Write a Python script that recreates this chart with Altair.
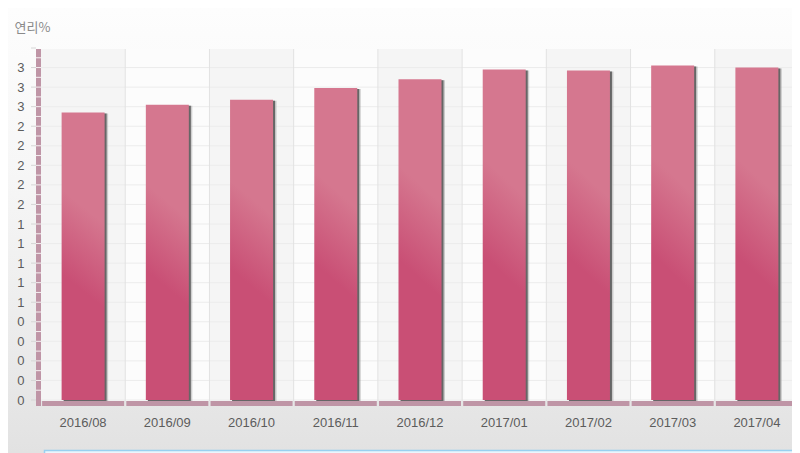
import altair as alt
import pandas as pd

months = ["2016/08", "2016/09", "2016/10", "2016/11", "2016/12", "2017/01", "2017/02", "2017/03", "2017/04"]
rates = [2.94, 3.02, 3.07, 3.19, 3.28, 3.38, 3.37, 3.42, 3.40]
shades = [0, 1, 0, 1, 0, 1, 0, 1, 0]
major_ticks = [0, 0.2, 0.4, 0.6, 0.8, 1.0, 1.2, 1.4, 1.6, 1.8, 2.0, 2.2, 2.4, 2.6, 2.8, 3.0, 3.2, 3.4, 3.6]
minor_ticks = [0.1, 0.2, 0.3, 0.4, 0.5, 0.6, 0.7, 0.8, 0.9, 1.0, 1.1, 1.2, 1.3, 1.4, 1.5, 1.6, 1.7, 1.8,
               1.9, 2.0, 2.1, 2.2, 2.3, 2.4, 2.5, 2.6, 2.7, 2.8, 2.9, 3.0, 3.1, 3.2, 3.3, 3.4, 3.5, 3.6]
labelled_ticks = major_ticks[:-1]

df = pd.DataFrame({"month": months, "rate": rates, "shade": shades})
major_df = pd.DataFrame({"v": major_ticks})
minor_df = pd.DataFrame({"v": minor_ticks})
one = pd.DataFrame({"a": [0]})

W, H = 758, 352
FONT = "Liberation Sans"
MAUVE = "#bf95a6"

x_scale = alt.Scale(domain=months, paddingInner=0, paddingOuter=0)
y_scale = alt.Scale(domain=[0, 3.6], nice=False)
x_axis = alt.Axis(title=None, labelFont=FONT, labelFontSize=13, labelColor="#5c5c5c", labelAngle=0,
                  domain=False, ticks=False, grid=False, labelPadding=16, zindex=1)
y_axis = alt.Axis(values=labelled_ticks, labelExpr="floor(datum.value)",
                  labelFont=FONT, labelFontSize=13, labelColor="#5c5c5c",
                  domain=False, ticks=False, grid=False, labelPadding=17, zindex=1,
                  title="연리%", titleAngle=0, titleAlign="left", titleBaseline="middle",
                  titleX=-27, titleY=-21, titleFont="Noto Sans CJK KR",
                  titleFontSize=13, titleFontWeight="normal", titleColor="#8a8a8a")
x_enc = alt.X("month:N", scale=x_scale, axis=x_axis)
y_rate = alt.Y("rate:Q", scale=y_scale, axis=y_axis)
y_tick = alt.Y("v:Q", scale=y_scale, axis=y_axis)

page_bg = alt.Chart(one).mark_rect(
    color=alt.LinearGradient(
        gradient="linear", x1=0, y1=0, x2=0, y2=1,
        stops=[alt.GradientStop(color="#fdfdfd", offset=0),
               alt.GradientStop(color="#f7f7f7", offset=0.35),
               alt.GradientStop(color="#ebebeb", offset=0.75),
               alt.GradientStop(color="#e2e2e2", offset=1)])
).encode(x=alt.value(-33), x2=alt.value(760), y=alt.value(-40), y2=alt.value(405))

columns = alt.Chart(df).mark_rect().encode(
    x=x_enc,
    y=alt.value(1), y2=alt.value(353),
    color=alt.Color("shade:N", legend=None,
                    scale=alt.Scale(domain=[0, 1], range=["#f5f5f5", "#fcfcfc"])),
)

hgrid = alt.Chart(major_df[major_df["v"] < 3.6]).mark_rule(color="#ececec", strokeWidth=1).encode(
    y=y_tick, x=alt.value(0), x2=alt.value(W))

vgrid = alt.Chart(df[df["month"] != months[0]]).mark_rule(color="#e2e2e2", strokeWidth=1).encode(
    x=alt.X("month:N", bandPosition=0, scale=x_scale, axis=x_axis),
    y=alt.value(1), y2=alt.value(353),
)

shadow_soft = alt.Chart(df).mark_bar(size=43, color="#999999", opacity=0.45, xOffset=3.5, yOffset=1).encode(
    x=x_enc, y=y_rate)
shadow = alt.Chart(df).mark_bar(size=43, color="#666666", xOffset=2, yOffset=1).encode(
    x=x_enc, y=y_rate)

bars = alt.Chart(df).mark_bar(
    size=43,
    color=alt.LinearGradient(
        gradient="linear", x1=0.56, y1=0, x2=0.44, y2=1,
        stops=[alt.GradientStop(color="#d5778f", offset=0),
               alt.GradientStop(color="#d5778f", offset=0.33),
               alt.GradientStop(color="#c94f75", offset=0.62),
               alt.GradientStop(color="#c94f75", offset=1)]),
).encode(x=x_enc, y=y_rate)

y_band = alt.Chart(one).mark_rect(color=MAUVE).encode(
    x=alt.value(-5), x2=alt.value(0), y=alt.value(1), y2=alt.value(358))

y_breaks = alt.Chart(minor_df).mark_rule(color="#ffffff", strokeWidth=1, opacity=0.85).encode(
    y=y_tick, x=alt.value(-5), x2=alt.value(0))

y_ticks = alt.Chart(major_df).mark_rule(color="#d6d6d6", strokeWidth=1).encode(
    y=y_tick, x=alt.value(-10), x2=alt.value(-5))

x_band = alt.Chart(df).mark_bar(size=82, color=MAUVE).encode(
    x=x_enc, y=alt.value(353), y2=alt.value(358))

info_box = alt.Chart(one).mark_rect(color="#eaf6fd", stroke="#98d0f0", strokeWidth=1.5).encode(
    x=alt.value(3.5), x2=alt.value(770), y=alt.value(402.5), y2=alt.value(420))

chart = alt.layer(
    page_bg, columns, hgrid, vgrid, shadow_soft, shadow, bars, y_band, y_breaks, y_ticks, x_band, info_box
).resolve_scale(color="independent").properties(
    width=W, height=H,
    padding={"left": 33, "top": 40, "right": -7, "bottom": 53},
    autosize=alt.AutoSizeParams(type="none"),
).configure_view(stroke=None)

chart.save("out.html", embed_options={"renderer": "svg", "actions": False})
